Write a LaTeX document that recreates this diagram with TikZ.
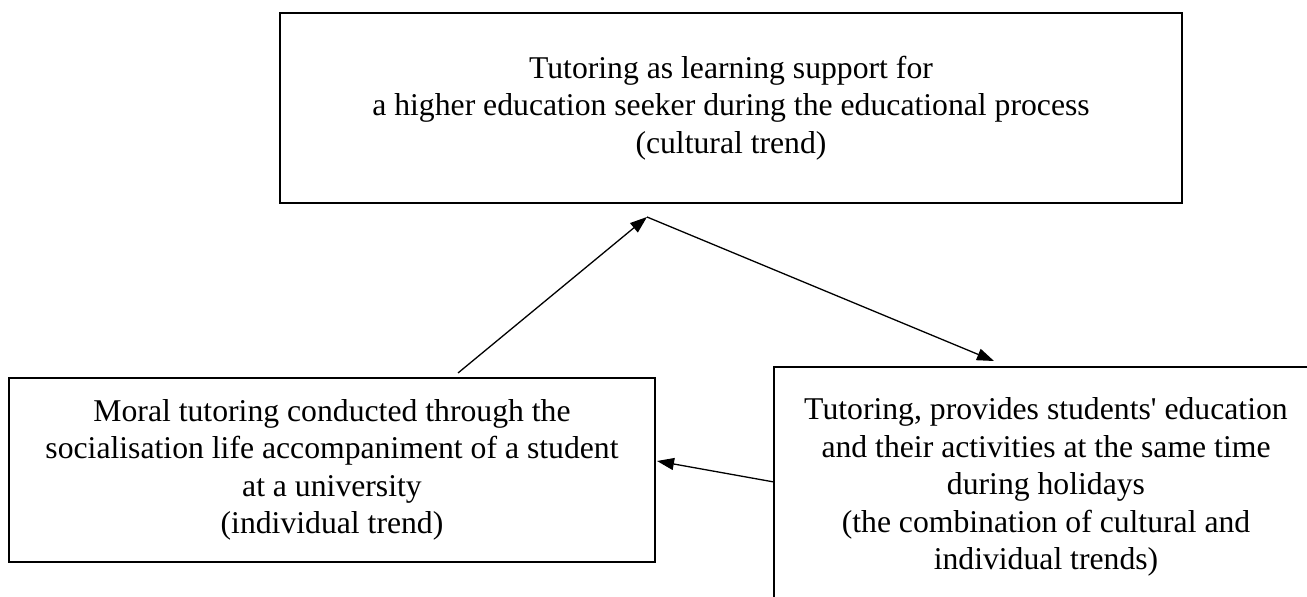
\documentclass[tikz,border=0pt]{standalone}
\usepackage{fontspec}
\setmainfont{Liberation Serif}[Ligatures=TeXOff]
\usetikzlibrary{arrows.meta}
\begin{document}
\begin{tikzpicture}[x=1pt,y=1pt,
  box/.style={draw, line width=2.5pt, align=center, inner sep=0pt,
    font=\fontsize{31.7}{37.5}\selectfont},
  link/.style={line width=1.3pt, -{Triangle[length=17pt,width=12pt]}}]
\useasboundingbox (0,0) rectangle (1307,597);
\clip (0,0) rectangle (1307,597);
\fill[white] (0,0) rectangle (1307,597);
\node[box, minimum width=902pt, minimum height=190pt] (top) at (731,489)
  {Tutoring as learning support for\\a higher education seeker during the educational process\\(cultural trend)};
\node[box, minimum width=646pt, minimum height=184pt] (left) at (332,127)
  {Moral tutoring conducted through the\\socialisation life accompaniment of a student\\at a university\\(individual trend)};
\node[box, minimum width=544pt, minimum height=240pt] (right) at (1046,110)
  {Tutoring, provides students' education\\and their activities at the same time\\during holidays\\(the combination of cultural and\\individual trends)};
\coordinate (a1s) at (458,224);
\coordinate (a1e) at (647,380);
\coordinate (a2e) at (994,236);
\coordinate (a3s) at (774,115);
\coordinate (a3e) at (657,136);
\draw[link] (a1s) -- (a1e);
\draw[link] (a1e) -- (a2e);
\draw[link] (a3s) -- (a3e);
\end{tikzpicture}
\end{document}
